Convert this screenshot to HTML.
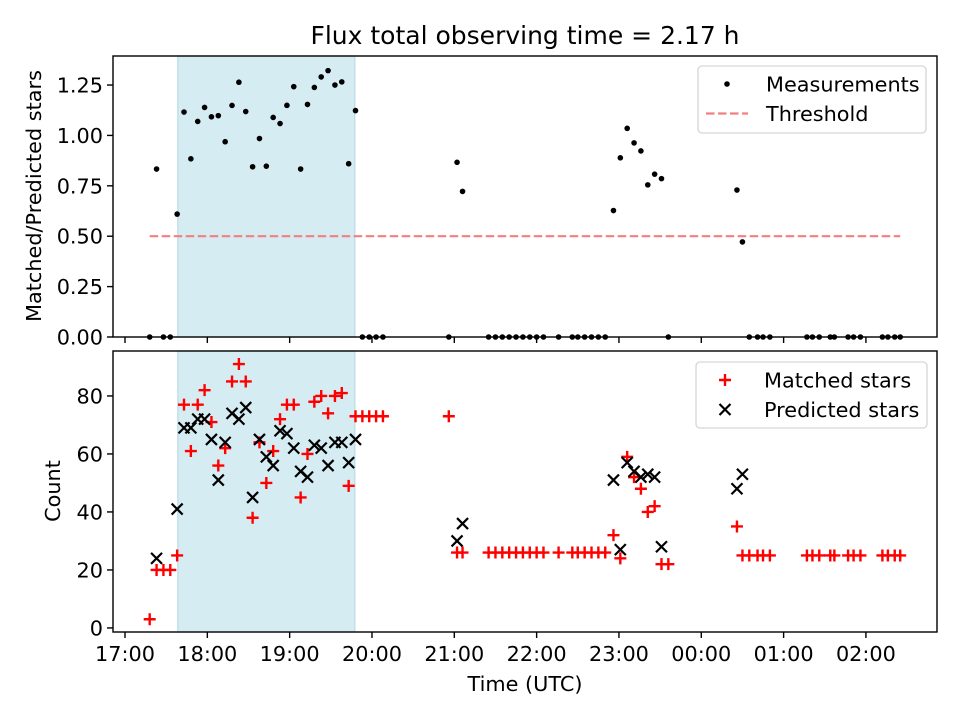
<!DOCTYPE html>
<html><head><meta charset="utf-8">
<style>
body{margin:0;background:#fff;}
svg{display:block;font-family:"DejaVu Sans","Liberation Sans",sans-serif;}
</style></head>
<body>
<svg id="chart" width="960" height="720" viewBox="0 0 960 720">
<rect width="960" height="720" fill="#fff"/>
<text x="525" y="44" font-size="25" text-anchor="middle">Flux total observing time = 2.17 h</text>
<text transform="translate(41,196) rotate(-90)" font-size="20.8" text-anchor="middle">Matched/Predicted stars</text>
<text transform="translate(60,491) rotate(-90)" font-size="20.8" text-anchor="middle">Count</text>
<text x="525" y="691" font-size="20.8" text-anchor="middle">Time (UTC)</text>
<g id="topPanel"></g>
<g id="botPanel"></g>
</svg>
<script>
const times=[18,23,28,33,38,43,48,53,58,63,68,73,78,83,88,93,98,103,108,113,118,123,128,133,138,143,148,153,158,163,168,173,178,183,188,
236,242,246,265,270,275,280,285,290,295,300,305,316,326,330,335,340,345,350,356,361,366,371,376,381,386,391,396,446,450,455,461,465,470,497,501,506,514,517,527,531,536,552,556,561,565];
const matched=[3,20,20,20,25,77,61,77,82,71,56,62,85,91,85,38,64,50,61,72,77,77,45,60,78,80,74,80,81,49,73,73,73,73,73,
73,26,26,26,26,26,26,26,26,26,26,26,26,26,26,26,26,26,26,32,24,59,52,48,40,42,22,22,35,25,25,25,25,25,25,25,25,25,25,25,25,25,25,25,25,25];
const predicted=[null,24,null,null,41,69,69,72,72,65,51,64,74,72,76,45,65,59,56,68,67,62,54,52,63,62,56,64,64,57,65,null,null,null,null,
null,30,36,null,null,null,null,null,null,null,null,null,null,null,null,null,null,null,null,51,27,57,54,52,53,52,28,null,48,53,null,null,null,null,null,null,null,null,null,null,null,null,null,null,null,null];
const threshold=[0.5];
const thresholdRange=[18,565];
const span=[38.5,167.5];
const xTicks=[0,60,120,180,240,300,360,420,480,540];
const xTickLabels=["17:00","18:00","19:00","20:00","21:00","22:00","23:00","00:00","01:00","02:00"];
const topTicks=[0,0.25,0.5,0.75,1.0,1.25];
const topTickLabels=["0.00","0.25","0.50","0.75","1.00","1.25"];
const botTicks=[0,20,40,60,80];
const botTickLabels=["0","20","40","60","80"];

const NS="http://www.w3.org/2000/svg";
const L=113,R=937;
const xMin=-8.75,xMax=591.8;
const X=m=>L+(m-xMin)/(xMax-xMin)*(R-L);
const TP={top:56,bot:337,min:0,max:1.394};
const BP={top:351,bot:632,min:-1.4,max:95.5};
const Y=(p,v)=>p.bot-(v-p.min)/(p.max-p.min)*(p.bot-p.top);
function mk(parent,tag,attrs){const e=document.createElementNS(NS,tag);for(const k in attrs)e.setAttribute(k,attrs[k]);parent.appendChild(e);return e;}

function panel(g,p,yt,ytl,showX){
  const s=mk(g,'rect',{x:X(span[0]),y:p.top,width:X(span[1])-X(span[0]),height:p.bot-p.top,fill:'#d6ecf3',stroke:'#b9dbe6','stroke-width':1.2});
  
  
  yt.forEach((v,i)=>{
    const y=Y(p,v);
    const t=mk(g,'line',{x1:L-6,x2:L,y1:y,y2:y,stroke:'#000','stroke-width':1.4});
    
    
    const tx=mk(g,'text',{x:L-10,y:y+7.5,'font-size':20.8,'text-anchor':'end'});
    tx.textContent=ytl[i];
    
    
  });
  xTicks.forEach((v,i)=>{
    const x=X(v);
    const t=mk(g,'line',{x1:x,x2:x,y1:p.bot,y2:p.bot+6,stroke:'#000','stroke-width':1.4});
    
    
    if(showX){
      const tx=mk(g,'text',{x:x,y:p.bot+29,'font-size':20.8,'text-anchor':'middle'});
      tx.textContent=xTickLabels[i];
      
      
    }
  });
}
const topG=document.getElementById('topPanel'),botG=document.getElementById('botPanel');
panel(topG,TP,topTicks,topTickLabels,false);
panel(botG,BP,botTicks,botTickLabels,true);

const th=mk(topG,'line',{x1:X(thresholdRange[0]),x2:X(thresholdRange[1]),y1:Y(TP,threshold[0]),y2:Y(TP,threshold[0]),stroke:'#f47f7f','stroke-width':2.2,'stroke-dasharray':'8.5,3.5'});


times.forEach((t,i)=>{
  const r=predicted[i]?matched[i]/predicted[i]:0;
  const c=mk(topG,'circle',{cx:X(t),cy:Y(TP,r),r:2.8,fill:'#000'});
  
  
});
times.forEach((t,i)=>{
  const x=X(t),y=Y(BP,matched[i]);
  const p=mk(botG,'path',{d:`M${x-6},${y}H${x+6}M${x},${y-6}V${y+6}`,stroke:'#f00','stroke-width':2.4,fill:'none'});
  
  
});
times.forEach((t,i)=>{
  if(predicted[i]==null)return;
  const x=X(t),y=Y(BP,predicted[i]);
  const p=mk(botG,'path',{d:`M${x-5.5},${y-5.5}L${x+5.5},${y+5.5}M${x-5.5},${y+5.5}L${x+5.5},${y-5.5}`,stroke:'#000','stroke-width':2.2,fill:'none'});
  
  
});
[[topG,TP],[botG,BP]].forEach(([g,p])=>{
  const f=mk(g,'rect',{x:L,y:p.top,width:R-L,height:p.bot-p.top,fill:'none',stroke:'#000','stroke-width':1.4});
  
  
});
function legend(g,x,y,w,h,items){
  const lg=mk(g,'g',{});
  
  
  mk(lg,'rect',{x:x,y:y,width:w,height:h,rx:4,fill:'#fff','fill-opacity':0.8,stroke:'#d6d6d6','stroke-width':1.3});
  items.forEach((it,i)=>{
    const cy=y+18+i*29.5;
    const e=mk(lg,'g',{});
    
    
    it.draw(e,x+29,cy);
    const tx=mk(e,'text',{x:x+68,y:cy+7.5,'font-size':20.8});
    tx.textContent=it.label;
  });
}
legend(topG,698,66,228,67,[
  {label:'Measurements',draw:(e,x,y)=>mk(e,'circle',{cx:x,cy:y,r:2.8,fill:'#000'})},
  {label:'Threshold',draw:(e,x,y)=>mk(e,'line',{x1:x-21,x2:x+21,y1:y,y2:y,stroke:'#f47f7f','stroke-width':2.2,'stroke-dasharray':'8.5,3.5'})}
]);
legend(botG,696,362,231,66,[
  {label:'Matched stars',draw:(e,x,y)=>mk(e,'path',{d:`M${x-6},${y}H${x+6}M${x},${y-6}V${y+6}`,stroke:'#f00','stroke-width':2.4})},
  {label:'Predicted stars',draw:(e,x,y)=>mk(e,'path',{d:`M${x-5.5},${y-5.5}L${x+5.5},${y+5.5}M${x-5.5},${y+5.5}L${x+5.5},${y-5.5}`,stroke:'#000','stroke-width':2.2})}
]);
</script>
</body></html>
